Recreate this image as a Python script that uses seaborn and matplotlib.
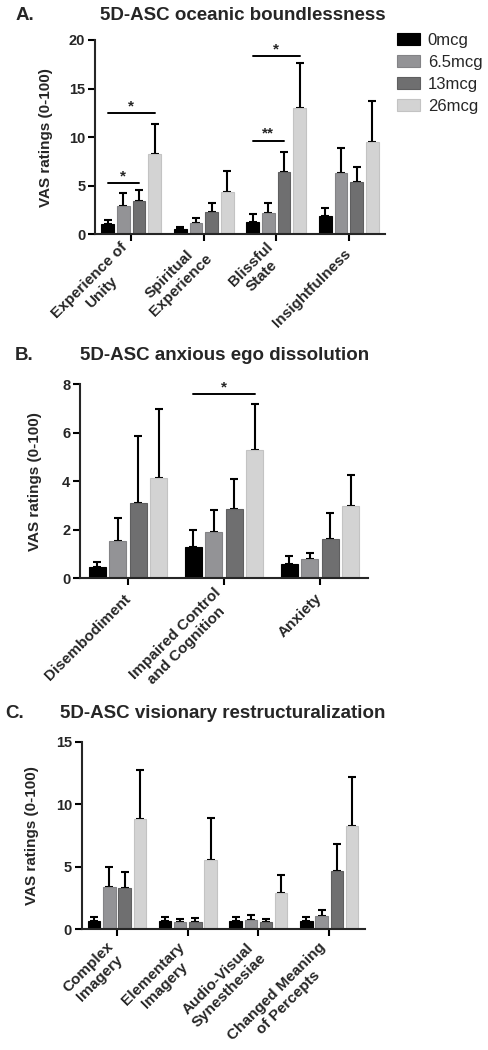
import numpy as np
import pandas as pd
import matplotlib
matplotlib.use("Agg")
import matplotlib.pyplot as plt
import seaborn as sns
from matplotlib.patches import Patch

# ---------------- data ----------------
doses = ["0mcg", "6.5mcg", "13mcg", "26mcg"]

cats_A = ["Experience of\nUnity", "Spiritual\nExperience", "Blissful\nState", "Insightfulness"]
mean_A_0 = [1.1, 0.55, 1.3, 1.9]
mean_A_65 = [2.9, 1.15, 2.15, 6.35]
mean_A_13 = [3.45, 2.25, 6.4, 5.35]
mean_A_26 = [8.3, 4.4, 13.05, 9.5]
sem_A_0 = [0.4, 0.2, 0.75, 0.8]
sem_A_65 = [1.4, 0.5, 1.05, 2.55]
sem_A_13 = [1.1, 0.95, 2.1, 1.6]
sem_A_26 = [3.1, 2.1, 4.55, 4.25]

cats_B = ["Disembodiment", "Impaired Control\nand Cognition", "Anxiety"]
mean_B_0 = [0.48, 1.31, 0.6]
mean_B_65 = [1.55, 1.92, 0.78]
mean_B_13 = [3.12, 2.85, 1.61]
mean_B_26 = [4.15, 5.29, 3.0]
sem_B_0 = [0.21, 0.68, 0.32]
sem_B_65 = [0.92, 0.88, 0.28]
sem_B_13 = [2.75, 1.25, 1.07]
sem_B_26 = [2.83, 1.9, 1.25]

cats_C = ["Complex\nImagery", "Elementary\nImagery", "Audio-Visual\nSynesthesiae",
          "Changed Meaning\nof Percepts"]
mean_C_0 = [0.67, 0.67, 0.67, 0.67]
mean_C_65 = [3.41, 0.59, 0.77, 1.09]
mean_C_13 = [3.28, 0.59, 0.59, 4.66]
mean_C_26 = [8.82, 5.52, 2.88, 8.26]
sem_C_0 = [0.29, 0.29, 0.29, 0.29]
sem_C_65 = [1.6, 0.26, 0.35, 0.46]
sem_C_13 = [1.3, 0.31, 0.26, 2.13]
sem_C_26 = [3.89, 3.38, 1.46, 3.89]

# significance brackets: (category index, first dose index, last dose index, y level, label)
sig_A = [(0, 0, 3, 12.45, "*"), (0, 0, 2, 5.25, "*"),
         (2, 0, 3, 18.35, "*"), (2, 0, 2, 9.64, "**")]
sig_B = [(1, 0, 3, 7.59, "*")]
sig_C = []

# ---------------- style ----------------
sns.set_style("ticks")
plt.rcParams["font.family"] = ["Liberation Sans", "DejaVu Sans"]
plt.rcParams["font.weight"] = "bold"
plt.rcParams["axes.linewidth"] = 1.5

palette = ["#000000", "#939396", "#6f6f70", "#d3d3d3"]
edges = ["#000000", "#838386", "#5f5f60", "#c3c3c3"]

fig = plt.figure(figsize=(4.88, 10.5), dpi=100)
W, H = 488.0, 1050.0


def rect(left, top, right, bottom):
    return [left / W, 1 - bottom / H, (right - left) / W, (bottom - top) / H]


def panel(ax, cats, means, sems, ylim, yticks, sigs, label_x, xpad):
    rows = []
    for d, m in zip(doses, means):
        for c, v in zip(cats, m):
            rows.append({"cat": c, "dose": d, "val": v})
    df = pd.DataFrame(rows)
    sns.barplot(data=df, x="cat", y="val", hue="dose", order=cats, hue_order=doses,
                palette=palette, width=0.86, gap=0.18, errorbar=None, saturation=1,
                legend=False, ax=ax, zorder=2)
    bar_conts = list(ax.containers)
    centers = []
    for i, cont in enumerate(bar_conts):
        xs, ys = [], []
        for b in cont.patches:
            b.set_edgecolor(edges[i])
            b.set_linewidth(0.8)
            xs.append(b.get_x() + b.get_width() / 2)
            ys.append(b.get_height())
        centers.append(xs)
        ax.errorbar(xs, ys, yerr=[np.zeros(len(ys)), sems[i]], fmt="none",
                    ecolor="black", elinewidth=1.5, capsize=3, capthick=1.5, zorder=1)
    for ci, h0, h1, y, lab in sigs:
        x0, x1 = centers[h0][ci], centers[h1][ci]
        ax.plot([x0, x1], [y, y], color="black", lw=1.4, clip_on=False)
        ax.text((x0 + x1) / 2, y, lab, ha="center", va="bottom", fontsize=11,
                fontweight="bold", clip_on=False)
    ax.set_xlim(-0.5, len(cats) - 0.5)
    ax.set_ylim(*ylim)
    ax.set_yticks(yticks)
    ax.set_xlabel("")
    ax.set_ylabel("VAS ratings (0-100)", fontsize=11, fontweight="bold")
    ax.yaxis.set_label_coords(label_x, 0.5)
    sns.despine(ax=ax)
    ax.tick_params(axis="both", width=1.5, length=5, color="black")
    ax.tick_params(axis="y", labelsize=10.5, pad=2)
    ax.tick_params(axis="x", labelsize=11, pad=xpad)
    for t in ax.get_yticklabels():
        t.set_fontweight("bold")
    ax.set_xticks(range(len(cats)))
    ax.set_xticklabels(cats, rotation=45, ha="right", va="center",
                       rotation_mode="anchor", multialignment="center",
                       fontweight="bold")


axA = fig.add_axes(rect(95, 40, 385, 234.3))
panel(axA, cats_A, [mean_A_0, mean_A_65, mean_A_13, mean_A_26],
      [sem_A_0, sem_A_65, sem_A_13, sem_A_26], (0, 20), [0, 5, 10, 15, 20],
      sig_A, -0.145, 7)

axB = fig.add_axes(rect(80, 384.3, 368, 578.3))
panel(axB, cats_B, [mean_B_0, mean_B_65, mean_B_13, mean_B_26],
      [sem_B_0, sem_B_65, sem_B_13, sem_B_26], (0, 8), [0, 2, 4, 6, 8],
      sig_B, -0.131, 8)

axC = fig.add_axes(rect(81.7, 741.7, 364.5, 929.3))
panel(axC, cats_C, [mean_C_0, mean_C_65, mean_C_13, mean_C_26],
      [sem_C_0, sem_C_65, sem_C_13, sem_C_26], (0, 15), [0, 5, 10, 15],
      sig_C, -0.152, 10)


def ftext(x, y, s, **kw):
    fig.text(x / W, 1 - y / H, s, fontsize=13.5, fontweight="bold", va="center", **kw)


ftext(16, 15, "A.", ha="left")
ftext(243, 15, "5D-ASC oceanic boundlessness", ha="center")
ftext(15, 355, "B.", ha="left")
ftext(225, 355, "5D-ASC anxious ego dissolution", ha="center")
ftext(5, 713, "C.", ha="left")
ftext(223, 713, "5D-ASC visionary restructuralization", ha="center")

handles = [Patch(facecolor=p, edgecolor=e, linewidth=0.8) for p, e in zip(palette, edges)]
fig.legend(handles, doses, loc="upper left", bbox_to_anchor=(397 / W, 1 - 33 / H),
           frameon=False, prop={"size": 12, "weight": "normal"},
           handlelength=1.4, handleheight=0.75, handletextpad=0.45,
           labelspacing=0.42, borderpad=0, borderaxespad=0)

fig.savefig("out.png", dpi=100)
